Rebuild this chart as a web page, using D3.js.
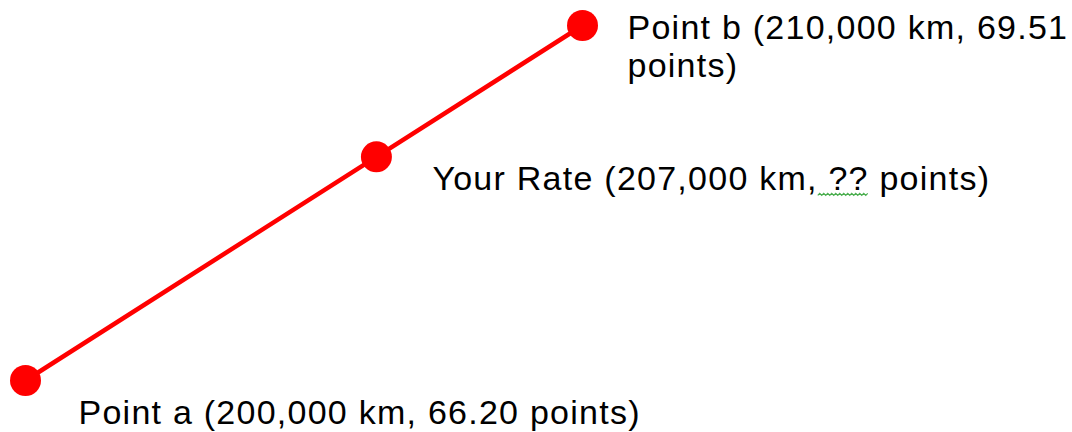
<!DOCTYPE html>
<html>
<head>
<meta charset="utf-8">
<script src="https://cdn.jsdelivr.net/npm/d3@7"></script>
<style>
  html, body { margin: 0; padding: 0; background: #fff; }
  text { font-family: "Liberation Sans", Arial, sans-serif; font-size: 34px; fill: #000; letter-spacing: 1.25px; }
</style>
</head>
<body>
<div id="chart"></div>
<script>
// values from the picture
const names = ["Point a", "Your Rate", "Point b"];
const kms = ["200,000", "207,000", "210,000"];
const points = ["66.20", "??", "69.51"];
// where each dot sits along the line (the sketch is not to scale)
const along = [0, 0.63, 1];

let width = 1072, height = 432;

let svg = d3.select("#chart")
    .append("svg")
    .attr("width", width)
    .attr("height", height);

let x = d3.scaleLinear().domain([0, 1]).range([25.5, 582.5]);
let y = d3.scaleLinear().domain([0, 1]).range([380.5, 25.5]);

// START line
svg.append("path")
    .datum(along)
    .attr("d", d3.line().x((d) => x(d)).y((d) => y(d)))
    .attr("fill", "none")
    .attr("stroke", "#ff0000")
    .attr("stroke-width", 4.5);
// END line

// START dots
svg.selectAll(".dot")
    .data(along)
    .enter()
    .append("circle")
    .attr("class", "dot")
    .attr("cx", (d) => x(d))
    .attr("cy", (d) => y(d))
    .attr("r", 15.5)
    .attr("fill", "#ff0000");
// END dots

// label offsets from the dot
const offsets = [[53, 43], [56, 33.5], [45, 13.5]];

let labels = svg.selectAll(".label")
    .data(along)
    .enter()
    .append("text")
    .attr("class", "label")
    .attr("x", (d, i) => x(d) + offsets[i][0])
    .attr("y", (d, i) => y(d) + offsets[i][1]);

labels.each(function(d, i) {
    let t = d3.select(this);
    let full = `${names[i]} (${kms[i]} km, ${points[i]} points)`;
    if (i == 2) {
        // wraps after the value
        t.append("tspan").text(`${names[i]} (${kms[i]} km, ${points[i]}`);
        t.append("tspan")
            .attr("x", x(d) + offsets[i][0])
            .attr("dy", 38)
            .text("points)");
    } else {
        t.text(full);
    }
});

// spell-check squiggle under " ??"
let rate = labels.filter((d, i) => i == 1);
let node = rate.node();
let str = node.textContent;
let s = str.indexOf(", ??") + 1;
let e = str.indexOf("??") + 1;
let x0 = node.getStartPositionOfChar(s).x;
let x1 = node.getEndPositionOfChar(e).x;
let yb = +rate.attr("y") + 4;
let pts = [];
for (let k = 0; x0 + k * 2 <= x1; k++) {
    pts.push([x0 + k * 2, yb + (k % 2 ? -1 : 1)]);
}
svg.append("path")
    .attr("d", d3.line()(pts))
    .attr("fill", "none")
    .attr("stroke", "#4caf50")
    .attr("stroke-width", 1.3);
</script>
</body>
</html>
